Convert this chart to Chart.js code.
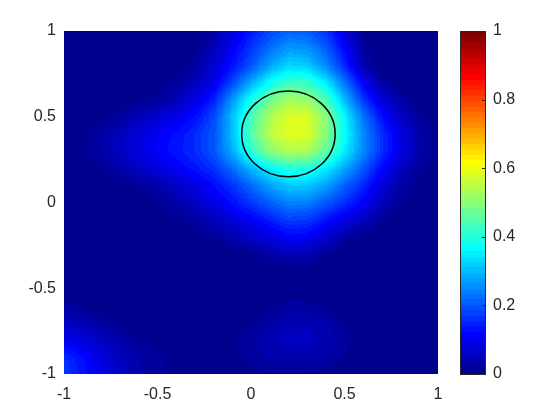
<!DOCTYPE html>
<html>
<head>
<meta charset="utf-8">
<script src="https://cdn.jsdelivr.net/npm/chart.js@4.4.1/dist/chart.umd.min.js"></script>
<style>
  html, body { margin: 0; padding: 0; background: #fff; }
  #chart { display: block; }
</style>
</head>
<body>
<canvas id="chart" width="560" height="420"></canvas>
<script>
// grid coordinates (x left to right, y top to bottom)
const xValues = [-1, -0.9, -0.8, -0.7, -0.6, -0.5, -0.4, -0.3, -0.2, -0.1, 0, 0.1, 0.2, 0.3, 0.4, 0.5, 0.6, 0.7, 0.8, 0.9, 1]
const yValues = [1, 0.9, 0.8, 0.7, 0.6, 0.5, 0.4, 0.3, 0.2, 0.1, 0, -0.1, -0.2, -0.3, -0.4, -0.5, -0.6, -0.7, -0.8, -0.9, -1]

// field values, one row per y value
const zValues = [
  [0, 0, 0, 0, 0, 0, 0, 0.005, 0.03, 0.09, 0.14, 0.185, 0.215, 0.205, 0.165, 0.085, 0.01, 0, 0, 0, 0],
  [0, 0, 0, 0, 0, 0, 0, 0.012, 0.05, 0.11, 0.17, 0.23, 0.27, 0.26, 0.21, 0.115, 0.02, 0, 0, 0, 0],
  [0, 0, 0, 0, 0, 0, 0.005, 0.025, 0.07, 0.135, 0.2, 0.28, 0.33, 0.32, 0.25, 0.155, 0.04, 0, 0, 0, 0],
  [0, 0, 0, 0, 0, 0.008, 0.025, 0.05, 0.1, 0.19, 0.29, 0.38, 0.43, 0.42, 0.35, 0.23, 0.11, 0.03, 0.005, 0, 0],
  [0, 0, 0, 0.005, 0.012, 0.022, 0.05, 0.09, 0.15, 0.27, 0.39, 0.48, 0.53, 0.52, 0.44, 0.3, 0.17, 0.08, 0.03, 0.005, 0],
  [0, 0.003, 0.012, 0.025, 0.05, 0.075, 0.1, 0.13, 0.19, 0.31, 0.44, 0.54, 0.585, 0.58, 0.5, 0.36, 0.23, 0.13, 0.06, 0.02, 0.005],
  [0, 0.012, 0.03, 0.055, 0.085, 0.11, 0.13, 0.16, 0.2, 0.31, 0.45, 0.55, 0.59, 0.585, 0.5, 0.37, 0.25, 0.16, 0.09, 0.035, 0.01],
  [0, 0.015, 0.035, 0.06, 0.09, 0.115, 0.135, 0.16, 0.2, 0.29, 0.41, 0.5, 0.54, 0.53, 0.46, 0.35, 0.25, 0.16, 0.09, 0.035, 0.012],
  [0, 0.008, 0.015, 0.035, 0.06, 0.085, 0.11, 0.135, 0.165, 0.225, 0.3, 0.36, 0.4, 0.395, 0.35, 0.28, 0.2, 0.12, 0.055, 0.02, 0.005],
  [0, 0, 0, 0.008, 0.02, 0.035, 0.06, 0.09, 0.125, 0.165, 0.22, 0.275, 0.315, 0.315, 0.275, 0.21, 0.15, 0.08, 0.03, 0.008, 0],
  [0, 0, 0, 0, 0.005, 0.015, 0.035, 0.06, 0.095, 0.13, 0.17, 0.21, 0.245, 0.24, 0.2, 0.16, 0.11, 0.05, 0.015, 0, 0],
  [0, 0, 0, 0, 0, 0.003, 0.012, 0.03, 0.05, 0.08, 0.11, 0.145, 0.175, 0.17, 0.13, 0.09, 0.05, 0.015, 0, 0, 0],
  [0, 0, 0, 0, 0, 0, 0, 0.005, 0.02, 0.04, 0.065, 0.09, 0.115, 0.11, 0.07, 0.03, 0.01, 0, 0, 0, 0],
  [0, 0, 0, 0, 0, 0, 0, 0, 0, 0.005, 0.01, 0.03, 0.045, 0.04, 0.015, 0, 0, 0, 0, 0, 0],
  [0, 0, 0, 0, 0, 0, 0, 0, 0, 0, 0, 0, 0.005, 0.005, 0, 0, 0, 0, 0, 0, 0],
  [0.005, 0, 0, 0, 0, 0, 0, 0, 0, 0, 0, 0.003, 0.008, 0.008, 0.003, 0, 0, 0, 0, 0, 0],
  [0.025, 0.013, 0.004, 0, 0, 0, 0, 0, 0, 0, 0.003, 0.012, 0.022, 0.022, 0.012, 0.003, 0, 0, 0, 0, 0],
  [0.055, 0.042, 0.024, 0.01, 0, 0, 0, 0, 0, 0.003, 0.015, 0.03, 0.045, 0.045, 0.035, 0.012, 0, 0, 0, 0, 0],
  [0.1, 0.082, 0.058, 0.035, 0.018, 0.006, 0, 0, 0, 0.015, 0.03, 0.045, 0.055, 0.055, 0.042, 0.025, 0.008, 0, 0, 0, 0],
  [0.16, 0.125, 0.085, 0.052, 0.032, 0.02, 0.01, 0.002, 0, 0.012, 0.025, 0.035, 0.04, 0.04, 0.03, 0.015, 0.003, 0, 0, 0, 0],
  [0.17, 0.135, 0.095, 0.058, 0.035, 0.022, 0.011, 0.003, 0, 0.003, 0.01, 0.015, 0.015, 0.015, 0.01, 0.003, 0, 0, 0, 0, 0]
]

const xTicks = [-1, -0.5, 0, 0.5, 1]
const yTicks = [-1, -0.5, 0, 0.5, 1]
const colorTicks = [0, 0.2, 0.4, 0.6, 0.8, 1]
const colorLabels = ['0', '0.2', '0.4', '0.6', '0.8', '1']

// the black circle
const circleCenter = [0.2, 0.4]
const circleRadius = 0.25

const textColor = '#262626'
const nColors = 64
const ENC = 400 // value -> 8 bit channel while smoothing

// MATLAB jet(64)
function jetMap(n) {
  const m = n / 4
  const u = []
  for (let i = 1; i <= m; i++) u.push(i / m)
  for (let i = 1; i < m; i++) u.push(1)
  for (let i = m; i >= 1; i--) u.push(i / m)
  const J = Array.from({ length: n }, () => [0, 0, 0])
  const off = Math.ceil(m / 2)
  u.forEach((val, k) => {
    const g = off + k + 1
    const r = g + m
    const b = g - m
    if (r <= n) J[r - 1][0] = val
    if (g <= n) J[g - 1][1] = val
    if (b >= 1) J[b - 1][2] = val
  })
  return J.map(c => c.map(v => Math.round(v * 255)))
}
const jet = jetMap(nColors)

const heatmapPlugin = {
  id: 'heatmap',
  beforeDatasetsDraw(chart) {
    const { ctx, chartArea: a, scales: { x, y } } = chart
    const nx = xValues.length, ny = yValues.length

    const small = document.createElement('canvas')
    small.width = nx
    small.height = ny
    const sctx = small.getContext('2d')
    const img = sctx.createImageData(nx, ny)
    for (let j = 0; j < ny; j++) {
      for (let i = 0; i < nx; i++) {
        const k = (j * nx + i) * 4
        img.data[k] = Math.min(255, Math.round(zValues[j][i] * ENC))
        img.data[k + 3] = 255
      }
    }
    sctx.putImageData(img, 0, 0)

    const w = Math.round(a.right - a.left)
    const h = Math.round(a.bottom - a.top)
    const big = document.createElement('canvas')
    big.width = w
    big.height = h
    const bctx = big.getContext('2d')
    bctx.imageSmoothingEnabled = true
    const hx = (xValues[1] - xValues[0]) / 2
    const hy = (yValues[0] - yValues[1]) / 2
    const x0 = x.getPixelForValue(xValues[0] - hx) - a.left
    const x1 = x.getPixelForValue(xValues[nx - 1] + hx) - a.left
    const y0 = y.getPixelForValue(yValues[0] + hy) - a.top
    const y1 = y.getPixelForValue(yValues[ny - 1] - hy) - a.top
    bctx.drawImage(small, x0, y0, x1 - x0, y1 - y0)

    const px = bctx.getImageData(0, 0, w, h)
    for (let k = 0; k < px.data.length; k += 4) {
      const v = px.data[k] / ENC
      const idx = Math.max(0, Math.min(nColors - 1, Math.floor(v * nColors)))
      const c = jet[idx]
      px.data[k] = c[0]
      px.data[k + 1] = c[1]
      px.data[k + 2] = c[2]
      px.data[k + 3] = 255
    }
    bctx.putImageData(px, 0, 0)
    ctx.drawImage(big, a.left, a.top)

    // circle
    const cx = x.getPixelForValue(circleCenter[0])
    const cy = y.getPixelForValue(circleCenter[1])
    const rx = x.getPixelForValue(circleCenter[0] + circleRadius) - cx
    const ry = cy - y.getPixelForValue(circleCenter[1] + circleRadius)
    ctx.save()
    ctx.beginPath()
    ctx.ellipse(cx, cy, rx, ry, 0, 0, Math.PI * 2)
    ctx.strokeStyle = '#000'
    ctx.lineWidth = 1.5
    ctx.stroke()
    ctx.restore()
  },
  afterDraw(chart) {
    // colorbar
    const { ctx, chartArea: a, scales: { cb } } = chart
    const left = a.right + 22
    const right = left + 26
    ctx.save()
    for (let k = 0; k < nColors; k++) {
      const yTop = cb.getPixelForValue((k + 1) / nColors)
      const yBot = cb.getPixelForValue(k / nColors)
      const c = jet[k]
      ctx.fillStyle = `rgb(${c[0]},${c[1]},${c[2]})`
      ctx.fillRect(left, Math.floor(yTop), right - left, Math.ceil(yBot) - Math.floor(yTop))
    }
    ctx.strokeStyle = textColor
    ctx.lineWidth = 1
    const t = Math.round(cb.getPixelForValue(1))
    const b = Math.round(cb.getPixelForValue(0))
    ctx.strokeRect(left + 0.5, t + 0.5, right - left - 1, b - t)
    colorTicks.forEach(v => {
      const yy = Math.round(cb.getPixelForValue(v)) + 0.5
      ctx.beginPath()
      ctx.moveTo(right - 4, yy)
      ctx.lineTo(right, yy)
      ctx.stroke()
    })
    ctx.restore()
  }
}

Chart.defaults.font.family = "Arial, 'Liberation Sans', Helvetica, sans-serif"
Chart.defaults.font.size = 16
Chart.defaults.color = textColor

const points = []
yValues.forEach((yv, j) => xValues.forEach((xv, i) => points.push({ x: xv, y: yv, v: zValues[j][i] })))

new Chart(document.getElementById('chart'), {
  type: 'scatter',
  data: {
    datasets: [{
      data: points,
      pointRadius: 0,
      pointHoverRadius: 0
    }]
  },
  options: {
    responsive: false,
    animation: false,
    devicePixelRatio: 1,
    layout: { padding: { top: 31, left: 0, right: 0, bottom: 0 } },
    plugins: {
      legend: { display: false },
      tooltip: { enabled: false }
    },
    scales: {
      x: {
        type: 'linear',
        min: -1,
        max: 1,
        grid: { display: false, drawTicks: false },
        border: { display: false },
        ticks: { padding: 11, autoSkip: false, maxRotation: 0, callback: v => String(v) },
        afterBuildTicks: s => { s.ticks = xTicks.map(v => ({ value: v })) },
        afterFit: s => { s.height = 46 }
      },
      y: {
        type: 'linear',
        position: 'left',
        min: -1,
        max: 1,
        grid: { display: false, drawTicks: false },
        border: { display: false },
        ticks: { padding: 8, autoSkip: false, callback: v => String(v) },
        afterBuildTicks: s => { s.ticks = yTicks.map(v => ({ value: v })) },
        afterFit: s => { s.width = 64 }
      },
      cb: {
        type: 'linear',
        position: 'right',
        min: 0,
        max: 1,
        // invisible tick marks push the labels clear of the colorbar
        grid: { display: false, drawTicks: true, tickLength: 52 },
        border: { display: false },
        ticks: { padding: 3, autoSkip: false, callback: (v, i) => colorLabels[i] },
        afterBuildTicks: s => { s.ticks = colorTicks.map(v => ({ value: v })) },
        afterFit: s => { s.width = 122 }
      }
    }
  },
  plugins: [heatmapPlugin]
})
</script>
</body>
</html>
